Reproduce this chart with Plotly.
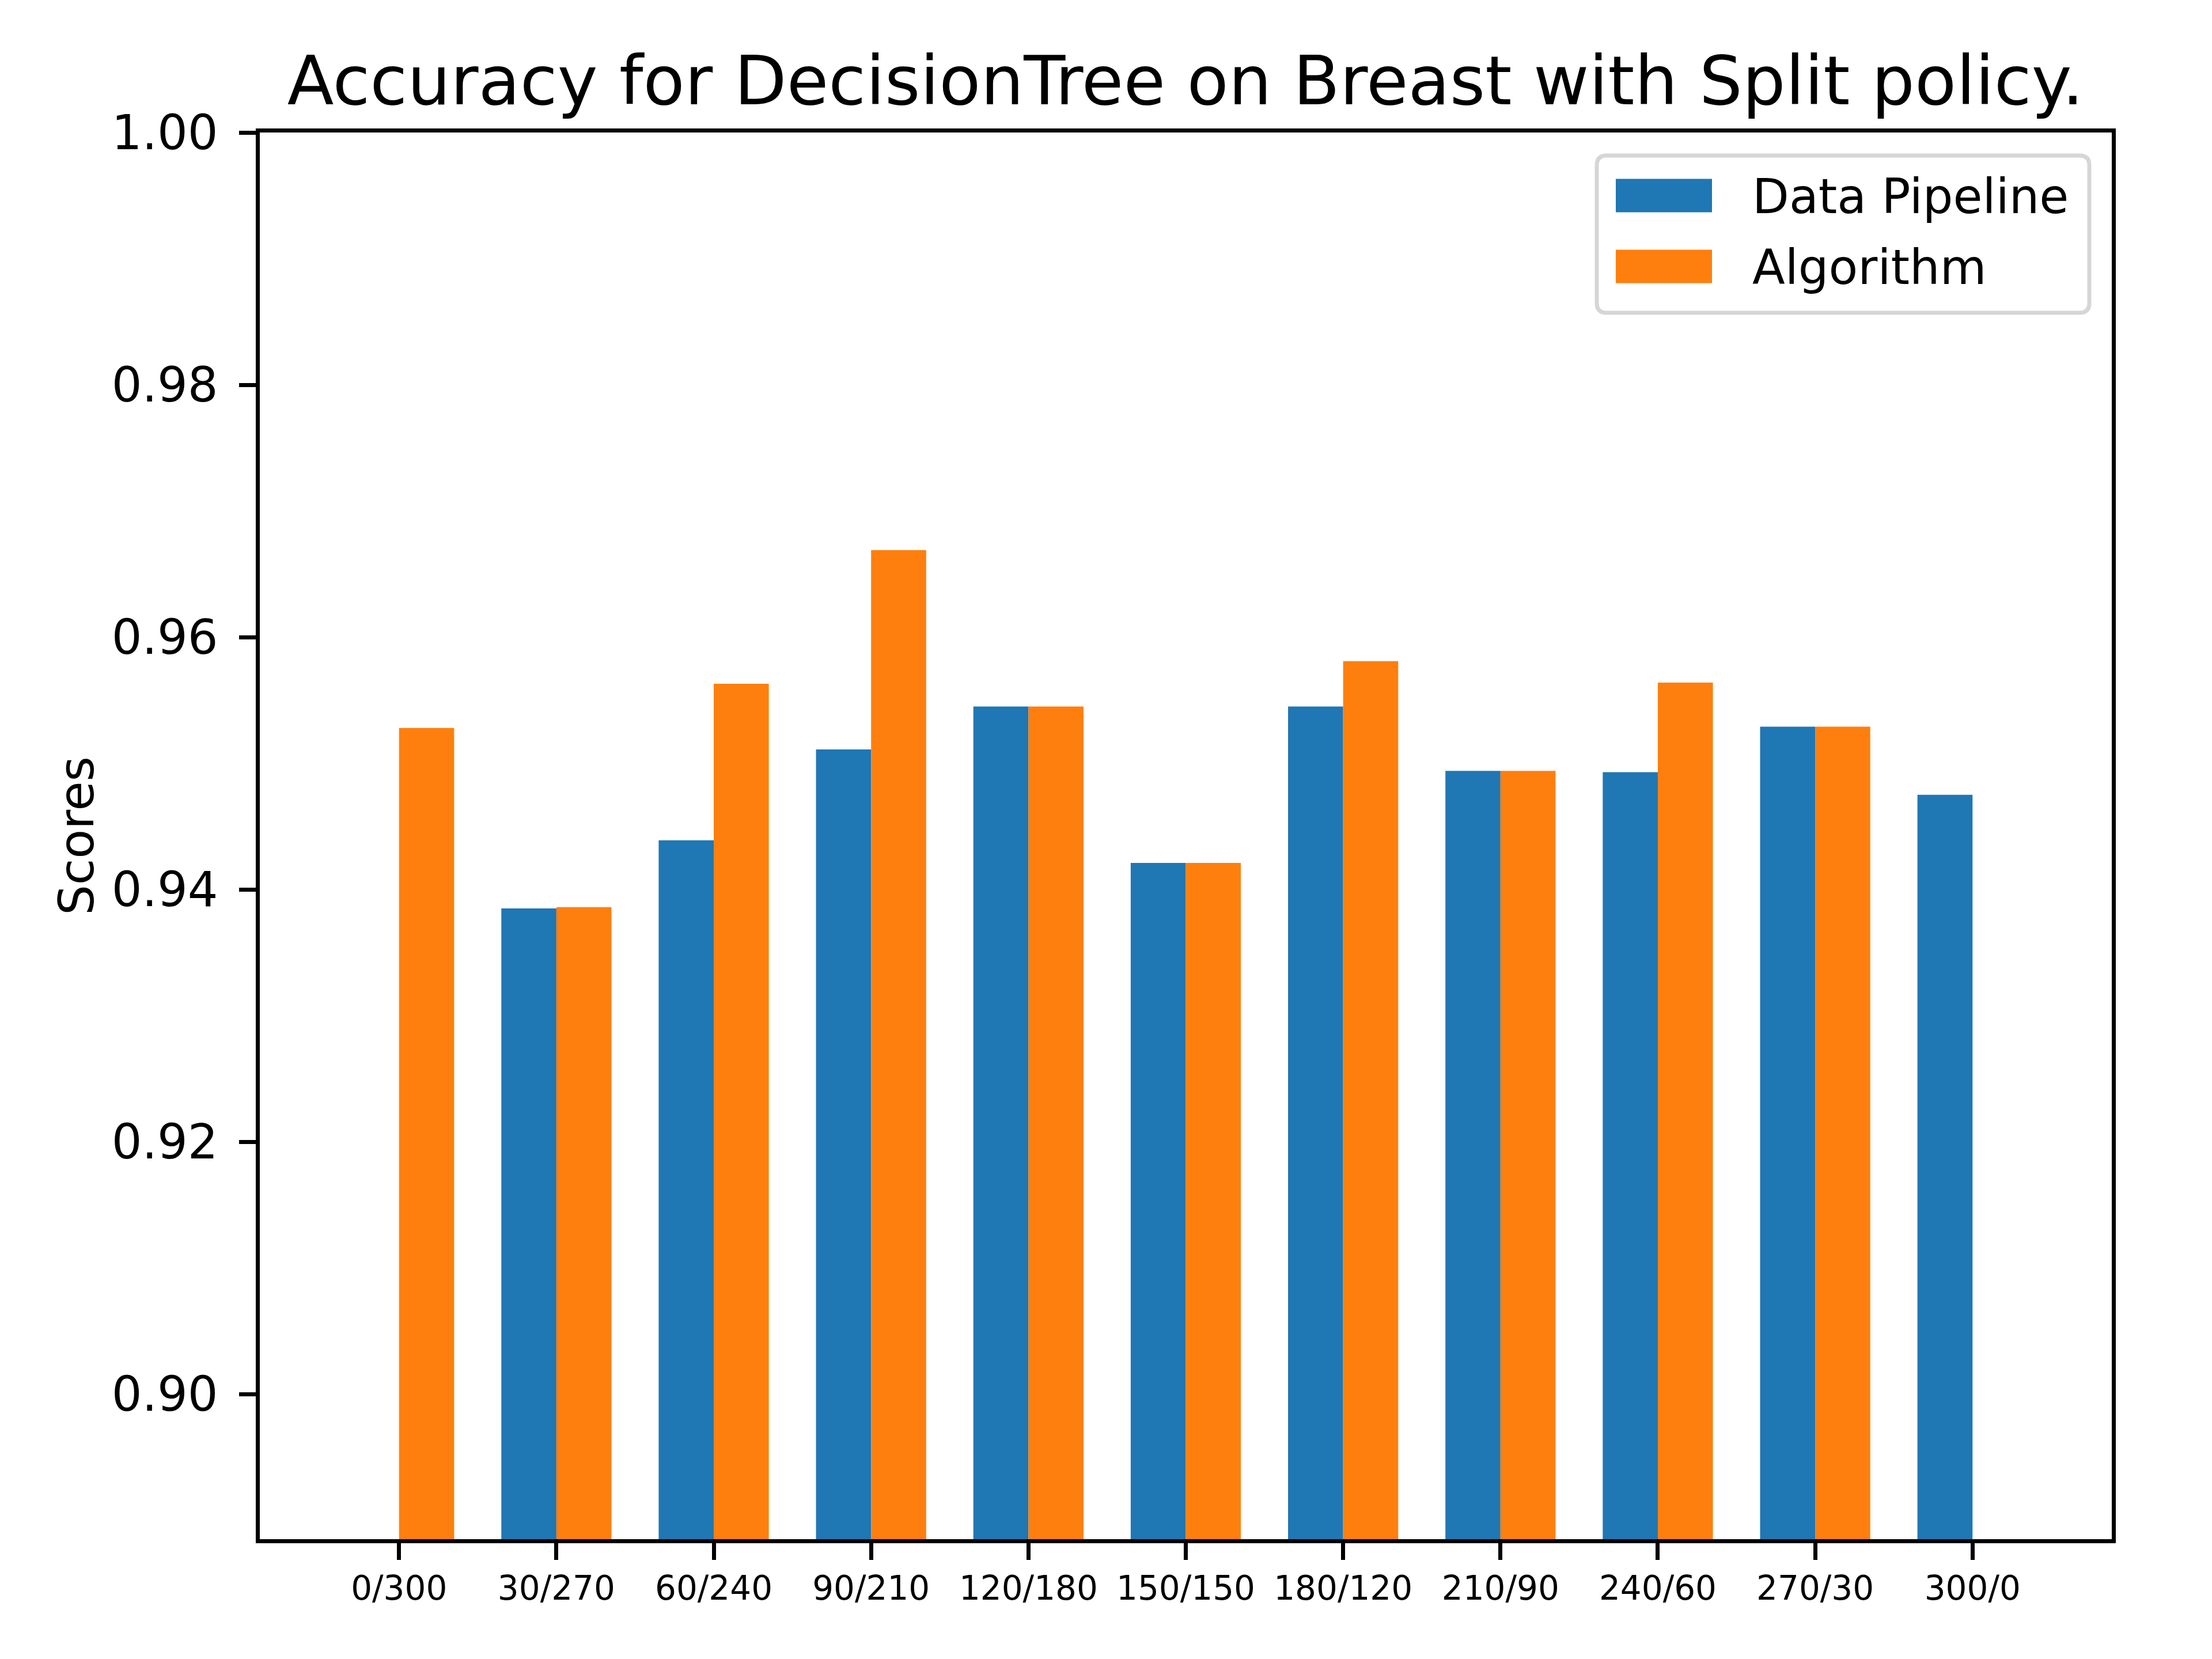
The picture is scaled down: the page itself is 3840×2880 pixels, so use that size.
import plotly.graph_objects as go

categories = ['0/300', '30/270', '60/240', '90/210', '120/180', '150/150',
              '180/120', '210/90', '240/60', '270/30', '300/0']
data_pipeline = [None, 0.9385, 0.9439, 0.9511, 0.9545, 0.9421, 0.9545, 0.9494, 0.9493, 0.9529, 0.9475]
algorithm = [0.9528, 0.9386, 0.9563, 0.9669, 0.9545, 0.9421, 0.9581, 0.9494, 0.9564, 0.9529, None]
series_names = ['Data Pipeline', 'Algorithm']
y_ticks = [0.90, 0.92, 0.94, 0.96, 0.98, 1.00]

BLUE = '#1f77b4'
ORANGE = '#ff7f0e'
FONT = 'DejaVu Sans'

W, H = 3840, 2880
L, R, T, B = 451, 3666, 230, 2672


def px2x(px):
    return (px - L) / (R - L)


def py2y(py):
    return (B - py) / (B - T)


fig = go.Figure()
fig.add_trace(go.Bar(x=categories, y=data_pipeline, name=series_names[0],
                     marker=dict(color=BLUE, line=dict(width=0)), showlegend=False))
fig.add_trace(go.Bar(x=categories, y=algorithm, name=series_names[1],
                     marker=dict(color=ORANGE, line=dict(width=0)), showlegend=False))

# legend drawn manually (matplotlib-style)
lx1, lx2, ly1, ly2, rr = 2772, 3627, 270, 543, 17
ax = lambda p: px2x(p)
ay = lambda p: py2y(p)
path = (f"M {ax(lx1+rr)},{ay(ly1)} L {ax(lx2-rr)},{ay(ly1)} "
        f"Q {ax(lx2)},{ay(ly1)} {ax(lx2)},{ay(ly1+rr)} "
        f"L {ax(lx2)},{ay(ly2-rr)} Q {ax(lx2)},{ay(ly2)} {ax(lx2-rr)},{ay(ly2)} "
        f"L {ax(lx1+rr)},{ay(ly2)} Q {ax(lx1)},{ay(ly2)} {ax(lx1)},{ay(ly2-rr)} "
        f"L {ax(lx1)},{ay(ly1+rr)} Q {ax(lx1)},{ay(ly1)} {ax(lx1+rr)},{ay(ly1)} Z")
shapes = [dict(type='path', path=path, xref='paper', yref='paper',
               fillcolor='white', line=dict(color='#d6d6d6', width=7), layer='above')]
annotations = []
for i, (name, col) in enumerate(zip(series_names, [BLUE, ORANGE])):
    cy = 339.5 + i * 123
    shapes.append(dict(type='rect', xref='paper', yref='paper',
                       x0=px2x(2805), x1=px2x(2972), y0=py2y(cy - 29), y1=py2y(cy + 29),
                       fillcolor=col, line=dict(width=0), layer='above'))
    annotations.append(dict(text=name, xref='paper', yref='paper', x=px2x(3040), y=py2y(cy + 2),
                            xanchor='left', yanchor='middle', showarrow=False,
                            font=dict(family=FONT, size=83, color='black')))

fig.update_layout(
    width=W, height=H,
    margin=dict(l=L, r=W - R, t=T, b=H - B, pad=0),
    paper_bgcolor='white', plot_bgcolor='white',
    barmode='group', bargap=0.3, bargroupgap=0,
    font=dict(family=FONT, color='black'),
    title=dict(text='Accuracy for DecisionTree on Breast with Split policy.',
               x=px2x(2058), xref='paper', xanchor='center',
               y=1 - 140 / H, yref='container', yanchor='middle',
               font=dict(family=FONT, size=118, color='black')),
    xaxis=dict(range=[-0.885, 10.885], showline=True, mirror=True, linecolor='black', linewidth=6.7,
               ticks='outside', ticklen=29, tickwidth=6.7, tickcolor='black',
               tickfont=dict(family=FONT, size=58, color='black'), showgrid=False, zeroline=False,
               ticklabelstandoff=0),
    yaxis=dict(range=[0.8885, 1.0], showline=True, mirror=True, linecolor='black', linewidth=6.7,
               ticks='outside', ticklen=29, tickwidth=6.7, tickcolor='black',
               tickvals=y_ticks, tickformat='.2f',
               tickfont=dict(family=FONT, size=83, color='black'), showgrid=False, zeroline=False,
               ticklabelstandoff=20,
               title=dict(text='Scores', font=dict(family=FONT, size=83, color='black'), standoff=6)),
    shapes=shapes, annotations=annotations,
)

fig.write_html('out.html')
